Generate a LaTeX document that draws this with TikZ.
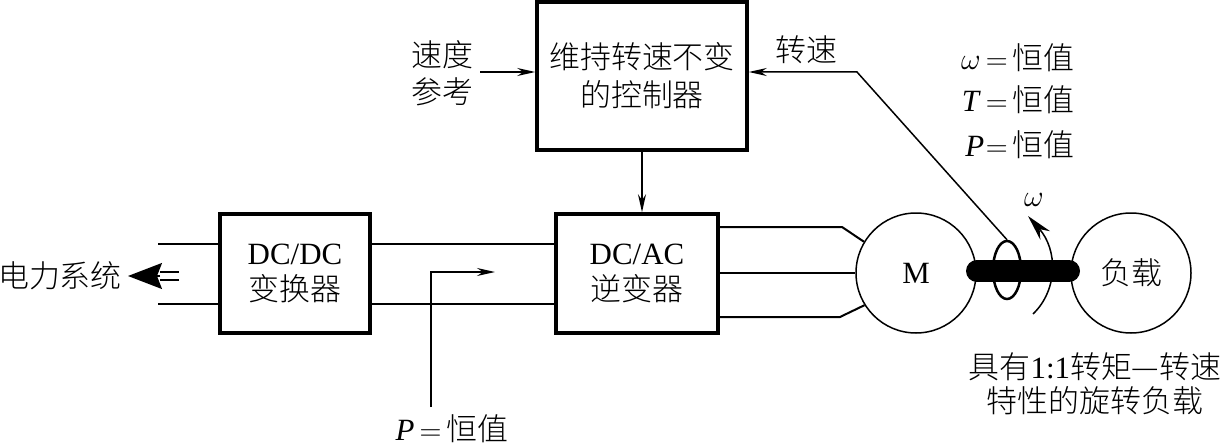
\documentclass[tikz,border=0pt]{standalone}
\usepackage{fontspec}
\setmainfont{Liberation Serif}
\newfontfamily\cjk{Noto Sans CJK SC Light}
\usetikzlibrary{positioning,arrows.meta,shapes.geometric}
\newcommand{\hengzhi}{$\,=\,${\cjk 恒值}}
\tikzset{
  txt/.style={font=\fontsize{17.6}{20.5}\selectfont,align=center,inner sep=0pt},
  blockbox/.style={txt,draw,line width=0.07cm},
  machine/.style={txt,draw,circle,line width=0.03cm,minimum size=2.4cm},
  wire/.style={line width=0.03cm},
  arrowwire/.style={wire,-{Stealth[length=0.36cm,width=0.16cm]}}
}
\begin{document}
\begin{tikzpicture}[x=1cm,y=1cm]
\useasboundingbox (0,0) rectangle (24.44,8.94);
\node[blockbox,minimum width=4.2cm,minimum height=2.96cm] (ctrl) at (12.84,7.42) {{\cjk 维持转速不变}\\[1pt]{\cjk 的控制器}};
\node[blockbox,minimum width=3.0cm,minimum height=2.38cm] (dcdc) at (5.9,3.47) {DC/DC\\{\cjk 变换器}};
\node[blockbox,minimum width=3.24cm,minimum height=2.38cm] (dcac) at (12.74,3.47) {DC/AC\\{\cjk 逆变器}};
\node[machine] (motor) at (18.32,3.48) {M};
\node[machine] (load) at (22.62,3.48) {\cjk 负载};
\node[draw,ellipse,line width=0.05cm,minimum width=0.56cm,minimum height=1.16cm,inner sep=0pt] (ring) at (20.14,3.54) {};
\node[txt,font=\fontsize{17.6}{21}\selectfont] (refl) at (8.84,7.47) {{\cjk 速度}\\{\cjk 参考}};
\node[txt] (spdl) at (16.12,7.94) {\cjk 转速};
\node[txt,anchor=east] (wval) at (21.5,7.78) {$\omega$\hengzhi};
\node[txt,anchor=east] (tval) at (21.5,6.94) {\textit{T}\hengzhi};
\node[txt,anchor=east] (pval) at (21.5,6.04) {\textit{P}\kern-2pt\hengzhi};
\node[txt] (wl) at (20.68,4.94) {$\omega$};
\node[txt] (loadl) at (21.9,1.6) {{\cjk 具有}1:1{\cjk 转矩—转速}};
\node[txt] (loadm) at (21.9,0.92) {\cjk 特性的旋转负载};
\node[txt] (pl) at (9.04,0.36) {\textit{P}\hengzhi};
\node[txt] (grid) at (1.2,3.42) {\cjk 电力系统};
\coordinate (refin) at (9.6,7.5);
\coordinate (spdc) at (17.14,7.5);
\coordinate (gu) at (3.16,4.06);
\coordinate (gl) at (3.16,2.86);
\coordinate (pa) at (8.62,0.8);
\coordinate (pb) at (8.62,3.5);
\coordinate (pc) at (9.9,3.5);
\coordinate (phu) at (16.84,4.4);
\coordinate (phl) at (16.8,2.6);
\coordinate (shl) at (19.54,3.52);
\coordinate (shr) at (21.38,3.52);
\coordinate (wa) at (20.66,2.66);
\coordinate (wb) at (20.56,4.62);
\coordinate (gt) at (3.58,3.42);
\coordinate (gh) at (3.2,3.42);
\coordinate (gp) at (2.56,3.42);
\draw[arrowwire] (refin) -- (refin -| ctrl.west);
\draw[arrowwire] (ring.north) -- (spdc) -- (spdc -| ctrl.east);
\draw[arrowwire] (ctrl.south) -- (ctrl.south |- dcac.north);
\draw[wire] (gu) -- (gu -| dcdc.west);
\draw[wire] (gl) -- (gl -| dcdc.west);
\draw[wire] (dcdc.east |- gu) -- (gu -| dcac.west);
\draw[wire] (dcdc.east |- gl) -- (gl -| dcac.west);
\draw[arrowwire] (pa) -- (pb) -- (pc);
\draw[wire,line width=0.04cm] (dcac.east |- phu) -- (phu) -- (motor.149);
\draw[wire,line width=0.04cm] (dcac.east |- motor.west) -- (motor.west);
\draw[wire,line width=0.04cm] (dcac.east |- phl) -- (phl) -- (motor.212);
\draw[wire,-{Stealth[length=0.52cm,width=0.26cm]}] (wa) .. controls (21.16,3.14) and (21.16,3.94) .. (wb);
\draw[line width=0.44cm,line cap=round] (shl) -- (shr);
\draw[line width=0.04cm,double,double distance=0.12cm] (gt) -- (gh);
\draw[wire,-{Stealth[length=0.68cm,width=0.52cm,inset=0.1cm]}] (gh) -- (gp);
\end{tikzpicture}
\end{document}
